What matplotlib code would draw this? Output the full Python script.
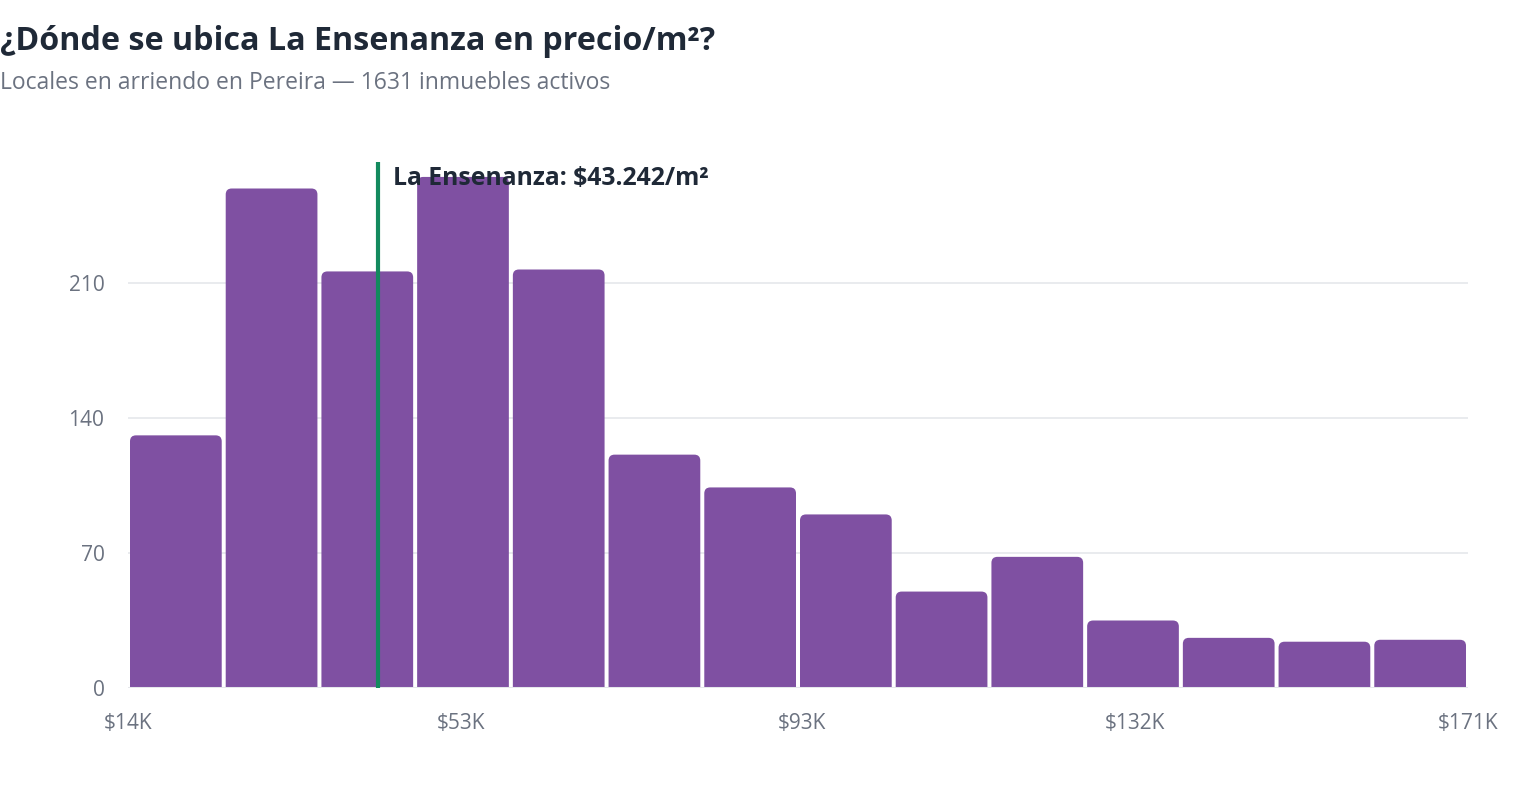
import matplotlib
matplotlib.use("Agg")
import matplotlib.pyplot as plt
from matplotlib.path import Path
from matplotlib.patches import PathPatch
import numpy as np

plt.rcParams['font.family'] = ['Open Sans', 'DejaVu Sans']

# ── datos ──────────────────────────────────────────
bin_start = 14.0      # miles de pesos / m²
bin_end = 171.0
counts = [131, 259, 216, 265, 217, 121, 104, 90, 50, 68, 35, 26, 24, 25]
x_ticks = [14, 53, 93, 132, 171]
x_tick_labels = ["$14K", "$53K", "$93K", "$132K", "$171K"]
y_ticks = [0, 70, 140, 210]
marker_value = 43.242
marker_label = "La Ensenanza: $43.242/m²"
title = "¿Dónde se ubica La Ensenanza en precio/m²?"
subtitle = "Locales en arriendo en Pereira — 1631 inmuebles activos"

PURPLE = "#7f50a2"
GREEN = "#138a5e"
DARK = "#1f2937"
GRAY = "#6b7280"
GRID = "#e5e7eb"

fig = plt.figure(figsize=(15.2, 8), dpi=100)
ax = fig.add_axes([128 / 1520, 112 / 800, 1340 / 1520, 0.675])
ymax = 280
ax.set_xlim(bin_start, bin_end)
ax.set_ylim(0, ymax)

edges = np.linspace(bin_start, bin_end, len(counts) + 1)

# radio de esquina en px -> unidades de datos
ax_w_px = 1340
ax_h_px = 0.675 * 800
rx = 6 * (bin_end - bin_start) / ax_w_px
ry = 6 * ymax / ax_h_px
gap = 2.0 * (bin_end - bin_start) / ax_w_px


def rounded_top_bar(x0, x1, h):
    verts = [(x0, 0), (x0, h - ry), (x0, h), (x0 + rx, h),
             (x1 - rx, h), (x1, h), (x1, h - ry), (x1, 0), (x0, 0)]
    codes = [Path.MOVETO, Path.LINETO, Path.CURVE3, Path.CURVE3,
             Path.LINETO, Path.CURVE3, Path.CURVE3, Path.LINETO, Path.CLOSEPOLY]
    return PathPatch(Path(verts, codes), facecolor=PURPLE, edgecolor='none', zorder=3)


for i, c in enumerate(counts):
    ax.add_patch(rounded_top_bar(edges[i] + gap, edges[i + 1] - gap, c))

# grid
for yt in y_ticks[1:]:
    ax.axhline(yt, color=GRID, lw=1.2, zorder=1)
ax.axhline(0, color=GRID, lw=2.2, zorder=4)

# línea de referencia
ax.vlines(marker_value, 0, 273, color=GREEN, lw=3, zorder=5)
ax.text(marker_value + 1.8, 264, marker_label, fontsize=17.8, fontweight='bold',
        color=DARK, ha='left', va='center', zorder=6)

for s in ax.spines.values():
    s.set_visible(False)
ax.set_xticks(x_ticks)
ax.set_xticklabels(x_tick_labels)
ax.set_yticks(y_ticks)
ax.tick_params(axis='both', length=0, labelsize=15, labelcolor=GRAY)
ax.tick_params(axis='x', pad=18)
ax.tick_params(axis='y', pad=17)

fig.text(0.0, 800 - 42, title, transform=None, fontsize=23.2, fontweight='bold',
         color=DARK, ha='left', va='center')
fig.text(0.0, 800 - 83, subtitle, transform=None, fontsize=16.5,
         color=GRAY, ha='left', va='center')

fig.savefig("out.png", dpi=100, facecolor='white')
